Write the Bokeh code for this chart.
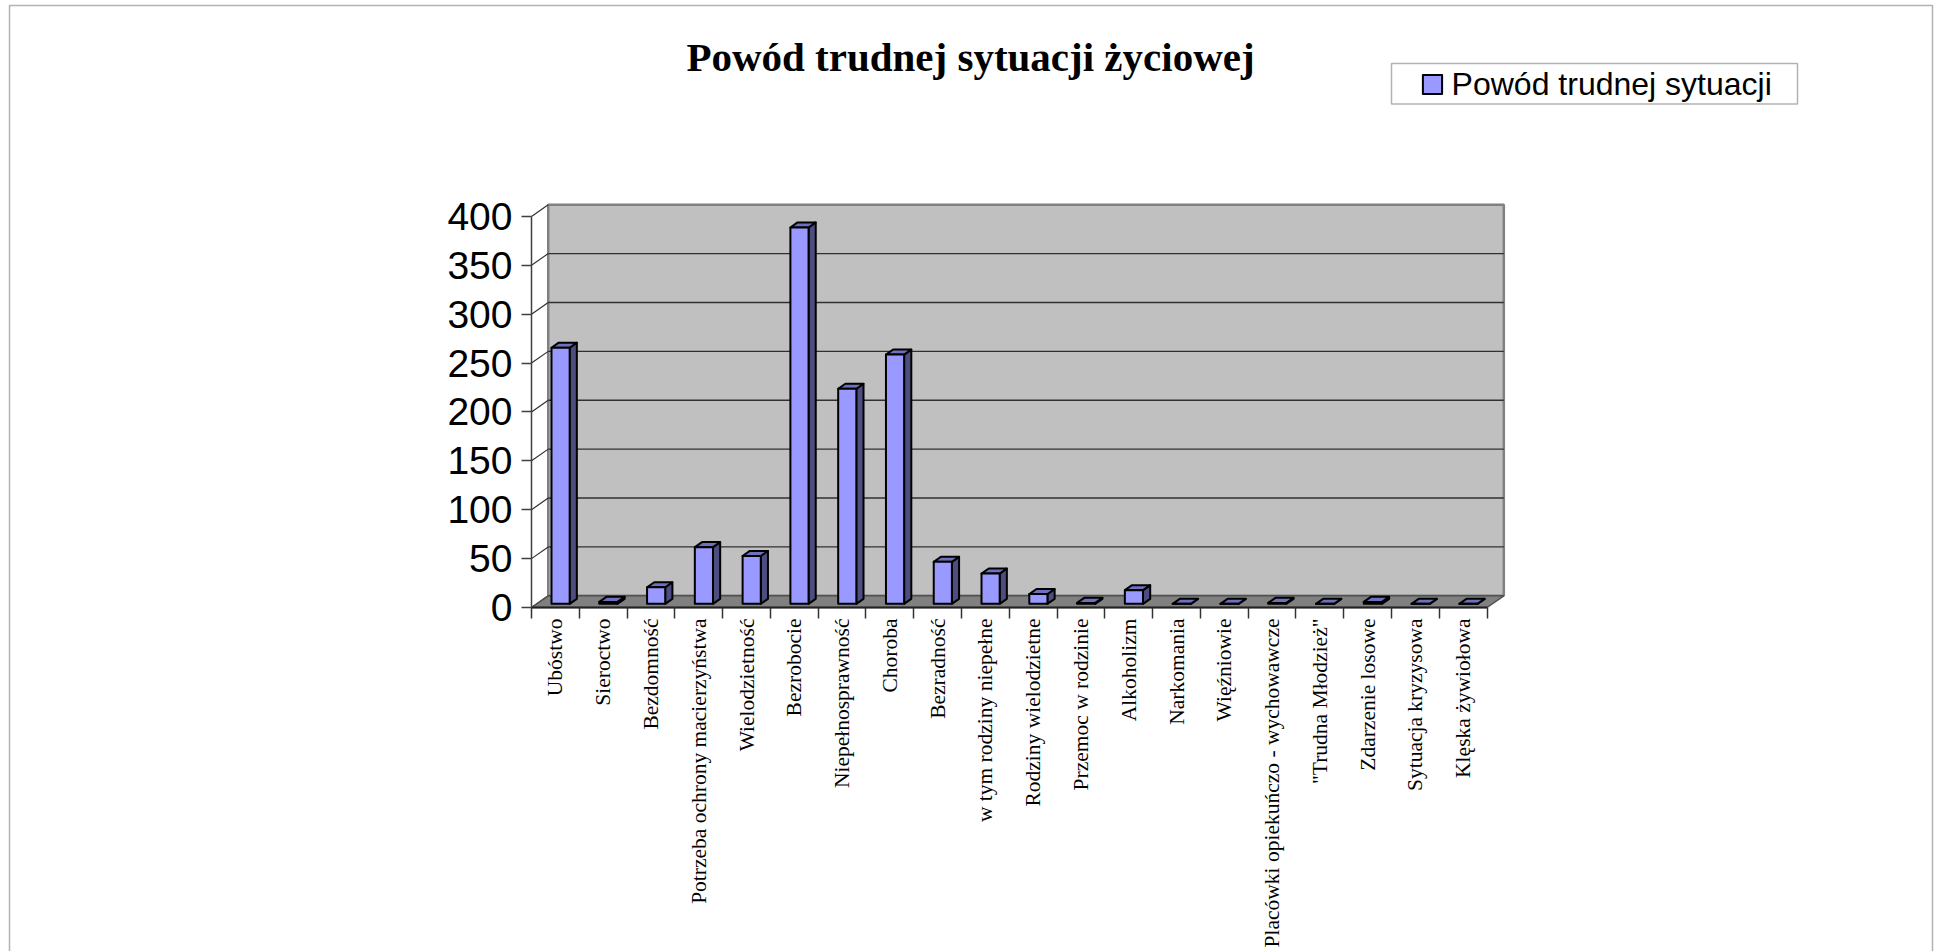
import math
from bokeh.plotting import figure
from bokeh.models import (ColumnDataSource, FixedTicker, Range1d, Legend, LegendItem,
                          Label, BoxAnnotation)
from bokeh.embed import file_html
from bokeh.resources import INLINE

# ---------------- data ----------------
categories = [
    "Ubóstwo", "Sieroctwo", "Bezdomność", "Potrzeba ochrony macierzyństwa",
    "Wielodzietność", "Bezrobocie", "Niepełnosprawność", "Choroba", "Bezradność",
    "w tym rodziny niepełne", "Rodziny wielodzietne", "Przemoc w rodzinie",
    "Alkoholizm", "Narkomania", "Więźniowie", "Placówki opiekuńczo - wychowawcze",
    "\"Trudna Młodzież\"", "Zdarzenie losowe", "Sytuacja kryzysowa", "Klęska żywiołowa",
]
values = [262, 2, 17, 58, 49, 385, 220, 255, 43, 31, 10, 1, 14, 0, 0, 1, 0, 2, 0, 0]
y_ticks = [0, 50, 100, 150, 200, 250, 300, 350, 400]
series_name = "Powód trudnej sytuacji"
chart_title = "Powód trudnej sytuacji życiowej"

# ---------------- 3D look parameters ----------------
DX = 0.35      # depth offset in category units
DY = 12.0      # depth offset in value units
D0, D1 = 0.31, 0.74   # bar depth (fraction of full depth)
HALF_W = 0.19  # half bar width (category units)

FRONT = "#9999FF"
TOP = "#7070C0"
SIDE = "#4D4D80"

n = len(categories)
x0, x1 = -0.5, n - 0.5
ymax = y_ticks[-1]

# canvas geometry (frame covers whole canvas, axes at fixed locations)
W, H = 1934, 951
AXIS_X_PX = 531.0     # canvas x of the value axis
AXIS_Y_PX = 607.0     # canvas y of the category axis
PX_X = 47.78          # px per category
PX_Y = 0.9776         # px per value unit

xs_start = x0 - AXIS_X_PX / PX_X
ys_start = -(H - AXIS_Y_PX) / PX_Y

p = figure(width=W, height=H, output_backend="svg", toolbar_location=None,
           x_range=Range1d(xs_start, xs_start + W / PX_X),
           y_range=Range1d(ys_start, ys_start + H / PX_Y),
           min_border=0, min_border_left=0, min_border_right=0,
           min_border_top=0, min_border_bottom=0,
           background_fill_color="white", border_fill_color="white",
           outline_line_color=None)
p.title.visible = False
p.grid.visible = False

# back wall
p.quad(left=[x0 + DX], right=[x1 + DX], bottom=[DY], top=[ymax + DY],
       fill_color="#C0C0C0", line_color="#808080", line_width=2.5)

# gridlines on back wall
gv = y_ticks[1:-1]
p.segment(x0=[x0 + DX] * len(gv), y0=[v + DY for v in gv],
          x1=[x1 + DX] * len(gv), y1=[v + DY for v in gv],
          line_color="#303030", line_width=1.3)

# diagonal lines on the left wall
p.segment(x0=[x0] * len(y_ticks), y0=y_ticks,
          x1=[x0 + DX] * len(y_ticks), y1=[v + DY for v in y_ticks],
          line_color="#303030", line_width=1.2)

# floor
p.patch(x=[x0, x1, x1 + DX, x0 + DX], y=[0, 0, DY, DY],
        fill_color="#808080", line_color="#505050", line_width=1.5)

# bars
xs = list(range(n))
lefts = [x - HALF_W + D0 * DX for x in xs]
rights = [x + HALF_W + D0 * DX for x in xs]
bots = [D0 * DY for _ in xs]
tops = [v + D0 * DY for v in values]
ddx = (D1 - D0) * DX
ddy = (D1 - D0) * DY

side_src = ColumnDataSource(dict(
    xs=[[r, r + ddx, r + ddx, r] for r in rights],
    ys=[[b, b + ddy, t + ddy, t] for b, t in zip(bots, tops)],
))
top_src = ColumnDataSource(dict(
    xs=[[l, r, r + ddx, l + ddx] for l, r in zip(lefts, rights)],
    ys=[[t, t, t + ddy, t + ddy] for t in tops],
))
front_src = ColumnDataSource(dict(left=lefts, right=rights, bottom=bots, top=tops,
                                  cat=categories, val=values))

p.patches(xs="xs", ys="ys", source=side_src, fill_color=SIDE,
          line_color="black", line_width=2, line_join="round")
p.patches(xs="xs", ys="ys", source=top_src, fill_color=TOP,
          line_color="black", line_width=2, line_join="round")
front_r = p.quad(left="left", right="right", bottom="bottom", top="top",
                 source=front_src, fill_color=FRONT, line_color="black",
                 line_width=2, line_join="round")

# x axis: category labels at centers, ticks at boundaries
xa = p.xaxis[0]
xa.fixed_location = 0
xa.ticker = FixedTicker(ticks=xs, minor_ticks=[x - 0.5 for x in range(n + 1)])
xa.major_label_overrides = {i: c for i, c in enumerate(categories)}
xa.major_label_orientation = math.pi / 2
xa.major_tick_line_color = None
xa.major_tick_out = 0
xa.major_tick_in = 0
xa.minor_tick_line_color = "#333333"
xa.minor_tick_line_width = 1.5
xa.minor_tick_out = 11
xa.minor_tick_in = 0
xa.axis_line_color = "#222222"
xa.axis_line_width = 2
xa.bounds = (x0, x1)
xa.major_label_standoff = 0
xa.major_label_text_font = "Liberation Serif"
xa.major_label_text_font_size = "21.5px"
xa.major_label_text_color = "black"

ya = p.yaxis[0]
ya.fixed_location = x0
ya.ticker = FixedTicker(ticks=y_ticks, minor_ticks=[])
ya.bounds = (0, ymax)
ya.axis_line_color = "#404040"
ya.axis_line_width = 1.5
ya.major_tick_line_color = "#404040"
ya.major_tick_line_width = 1.5
ya.major_tick_out = 10
ya.major_tick_in = 0
ya.minor_tick_line_color = None
ya.major_label_standoff = 9
ya.major_label_text_font = "Liberation Sans"
ya.major_label_text_font_size = "39px"
ya.major_label_text_color = "black"

# outer border
p.add_layout(BoxAnnotation(left=9, right=1932, top=5, bottom=990,
                           left_units="canvas", right_units="canvas",
                           top_units="canvas", bottom_units="canvas",
                           fill_alpha=0, line_color="black", line_width=1.5))

# title
p.add_layout(Label(x=970, y=56, x_units="canvas", y_units="canvas",
                   text=chart_title, text_font="Liberation Serif",
                   text_font_style="bold", text_font_size="41px",
                   text_align="center", text_baseline="alphabetic",
                   text_color="black"))

# legend box
p.add_layout(BoxAnnotation(left=1391, right=1797, top=63, bottom=103.5,
                           left_units="canvas", right_units="canvas",
                           top_units="canvas", bottom_units="canvas",
                           fill_alpha=0, line_color="black", line_width=1.5))

legend = Legend(items=[LegendItem(label=series_name, renderers=[front_r])],
                location=(1419.6, H - 102.5), padding=0, margin=0, spacing=0,
                glyph_width=24, glyph_height=24, label_height=24,
                label_standoff=8, label_text_font="Liberation Sans",
                label_text_font_size="32px", label_text_color="black",
                border_line_color=None, background_fill_alpha=0)
p.add_layout(legend)

open("out.html", "w").write(file_html(p, INLINE))
